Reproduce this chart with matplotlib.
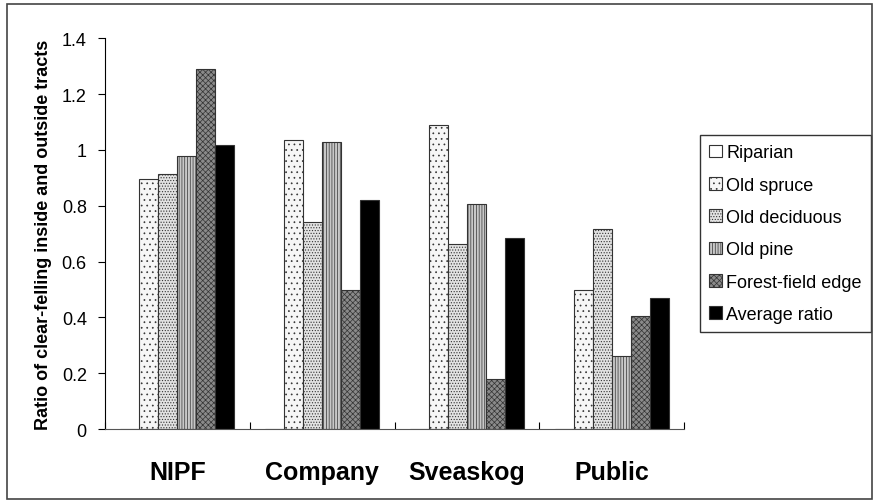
import matplotlib.pyplot as plt
import numpy as np

plt.rcParams['font.family'] = ['Liberation Sans', 'DejaVu Sans']
plt.rcParams['hatch.linewidth'] = 0.5

# data
owners = ["NIPF", "Company", "Sveaskog", "Public"]
series = ["Riparian", "Old spruce", "Old deciduous", "Old pine", "Forest-field edge", "Average ratio"]
riparian = [0, 0, 0, 0]
old_spruce = [0.895, 1.037, 1.09, 0.497]
old_deciduous = [0.912, 0.743, 0.662, 0.716]
old_pine = [0.977, 1.030, 0.805, 0.262]
forest_field = [1.288, 0.497, 0.18, 0.405]
average_ratio = [1.018, 0.822, 0.683, 0.470]
yticks = [0, 0.2, 0.4, 0.6, 0.8, 1, 1.2, 1.4]
ytick_labels = ["0", "0.2", "0.4", "0.6", "0.8", "1", "1.2", "1.4"]

values = [riparian, old_spruce, old_deciduous, old_pine, forest_field, average_ratio]
faces = ["white", "#f6f6f6", "#e2e2e2", "#c8c8c8", "#8a8a8a", "black"]
hatches = [None, "...", "......", "||||||", "xxxxxx", None]

fig = plt.figure(figsize=(8.74, 5.02), dpi=100)
# outer frame
fig.patches.append(plt.Rectangle((0.008, 0.004), 0.99, 0.986, transform=fig.transFigure,
                                 fill=False, edgecolor="#444444", linewidth=1.2))
ax = fig.add_axes([0.120, 0.143, 0.663, 0.779])

x = np.arange(len(owners))
w = 0.131
for j, vals in enumerate(values):
    ax.bar(x + (j - 2.5) * w, vals, width=w, color=faces[j], hatch=hatches[j],
           edgecolor="#333333", linewidth=0.8, label=series[j])

ax.set_xlim(-0.5, 3.5)
ax.set_ylim(0, 1.4)
ax.set_yticks(yticks)
ax.set_yticklabels(ytick_labels, fontsize=13)
ax.set_xticks(np.arange(-0.5, 4, 1))
ax.set_xticklabels([])
ax.set_xticks(x, minor=True)
ax.set_xticklabels(owners, minor=True, fontsize=18, fontweight="bold")
ax.tick_params(axis="x", which="minor", length=0, pad=22)
ax.tick_params(axis="x", which="major", length=5, direction="in")
ax.tick_params(axis="y", length=5, pad=8)
for s in ["top", "right"]:
    ax.spines[s].set_visible(False)
ax.spines["bottom"].set_color("#555555")
ax.set_ylabel("Ratio of clear-felling inside and outside tracts", fontsize=13,
              fontweight="bold", labelpad=7)

leg = ax.legend(loc="upper left", bbox_to_anchor=(1.027, 0.752), fontsize=13,
                frameon=True, fancybox=False, edgecolor="black", handlelength=0.7,
                handleheight=0.7, handletextpad=0.25, labelspacing=0.85,
                borderpad=0.5, borderaxespad=0)
leg.get_frame().set_linewidth(1.0)

fig.savefig("out.png", dpi=100)
